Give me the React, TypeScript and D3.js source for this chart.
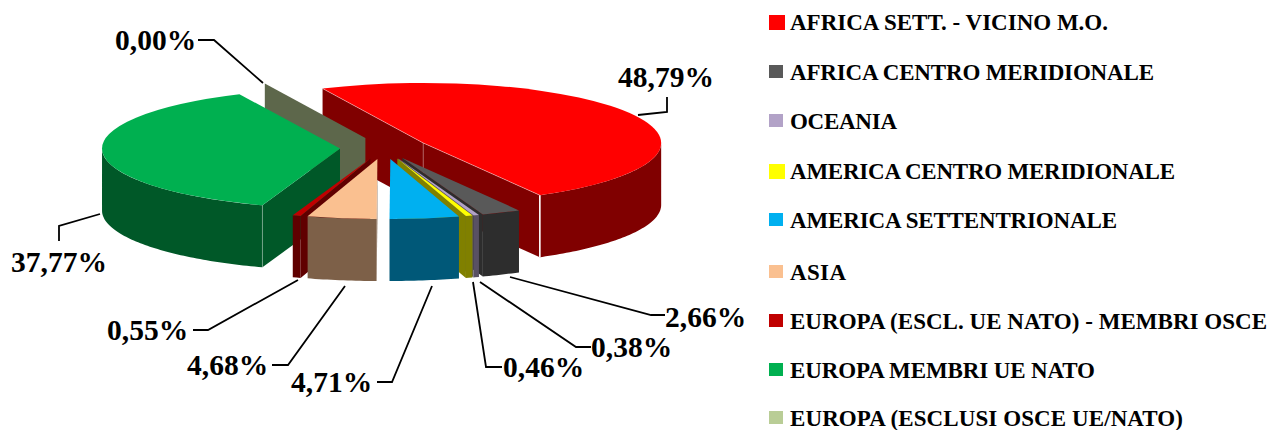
import { useRef, useEffect } from 'react';
import * as d3 from 'd3';

const categories = [
  'AFRICA SETT. - VICINO M.O.',
  'AFRICA CENTRO MERIDIONALE',
  'OCEANIA',
  'AMERICA CENTRO MERIDIONALE',
  'AMERICA SETTENTRIONALE',
  'ASIA',
  'EUROPA (ESCL. UE NATO) - MEMBRI OSCE',
  'EUROPA MEMBRI UE NATO',
  'EUROPA (ESCLUSI OSCE UE/NATO)',
];
const values = [48.79, 2.66, 0.38, 0.46, 4.71, 4.68, 0.55, 37.77, 0.0];
const colors = ['#FF0000', '#595959', '#B2A2C7', '#FFFF00', '#00B0F0', '#FAC090', '#C00000', '#00B050', '#B9CD96'];

// back to front
const drawOrder = [0, 8, 7, 1, 2, 3, 4, 6, 5];

// label anchors and leader lines
const labelX = [618, 665, 591, 503, 291, 187, 107, 11, 115];
const labelY = [87, 327, 357, 377, 392, 375, 340, 272, 50];
const leaders: [number, number][][] = [
  [[638, 115], [667, 112], [667, 97]],
  [[510, 277], [651, 315], [665, 315]],
  [[480, 282], [576, 347], [591, 347]],
  [[473, 282], [486, 367], [502, 367]],
  [[432, 286], [392, 382], [377, 382]],
  [[345, 286], [288, 365], [272, 365]],
  [[298, 280], [208, 330], [193, 330]],
  [[100, 214], [59, 226], [59, 241]],
  [[263, 83], [214, 40], [198, 40]],
];

// legend layout
const legendBaselines = [30, 80, 129, 179, 228, 280, 329, 378, 426];
const legendWidths = [318, 364, 107, 385, 327, 56, 477, 305, 393];
const swatchW = [16, 14, 14, 16, 14, 14, 14, 14, 14];
const swatchH = [15, 13, 13, 15, 13, 13, 13, 13, 13];

const rad = Math.PI / 180;

export default function App() {
  const svgRef = useRef<SVGSVGElement>(null);

  useEffect(() => {
    if (!svgRef.current) return;
    const svg = d3.select(svgRef.current);
    svg.selectAll('*').remove();

    const width = 1271;
    const height = 430;
    svg.attr('viewBox', `0 0 ${width} ${height}`);

    const cx = 384;
    const cy = 148;
    const R = 238;
    const ky = 60 / 238;
    const depth = 62;
    const explode = 0.185;

    const slices = d3.pie<number>()
      .sort(null)
      .startAngle(335 * rad)
      .endAngle(695 * rad)(values);

    const topArc = d3.arc<d3.PieArcDatum<number>>().innerRadius(0).outerRadius(R);
    const poly = d3.line();
    const g = svg.append('g');

    drawOrder.forEach((i) => {
      const s = slices[i];
      const fill = colors[i];
      const c = d3.rgb(fill);
      const side = d3.rgb(c.r * 0.5, c.g * 0.5, c.b * 0.5).formatHex();
      const mid = (s.startAngle + s.endAngle) / 2;
      const ax = cx + explode * R * Math.sin(mid);
      const ay = cy - explode * R * ky * Math.cos(mid);
      const px = (a: number) => ax + R * Math.sin(a);
      const py = (a: number) => ay - R * ky * Math.cos(a);

      const face = (a: number) => {
        g.append('path')
          .attr('d', poly([[ax, ay], [px(a), py(a)], [px(a), py(a) + depth], [ax, ay + depth]]) + 'Z')
          .attr('fill', side);
      };
      if (Math.sin(s.startAngle) < 0) face(s.startAngle);
      if (Math.sin(s.endAngle) > 0) face(s.endAngle);

      // outer wall, front half only
      const a0 = Math.max(s.startAngle, 450 * rad);
      const a1 = Math.min(s.endAngle, 630 * rad);
      if (a1 > a0) {
        const wall = d3.area<number>().x(px).y0(py).y1((a) => py(a) + depth);
        g.append('path')
          .attr('d', wall([...d3.range(a0, a1, rad), a1]))
          .attr('fill', side);
      }

      if (s.endAngle > s.startAngle) {
        g.append('path')
          .attr('transform', `translate(${ax},${ay}) scale(1,${ky})`)
          .attr('d', topArc(s))
          .attr('fill', fill);
      }

      // thin light seams on the corners
      if (i === 0) {
        const e = s.endAngle;
        g.append('path')
          .attr('d', poly([[px(s.startAngle), py(s.startAngle)], [ax, ay], [px(e), py(e)]]))
          .attr('fill', 'none').attr('stroke', '#fff').attr('stroke-opacity', 0.6).attr('stroke-width', 0.7);
        g.append('line')
          .attr('x1', px(e)).attr('x2', px(e)).attr('y1', py(e)).attr('y2', py(e) + depth)
          .attr('stroke', '#fff').attr('stroke-width', 1.6);
        g.append('line')
          .attr('x1', ax).attr('x2', ax).attr('y1', ay).attr('y2', ay + depth)
          .attr('stroke', '#fff').attr('stroke-opacity', 0.4).attr('stroke-width', 0.7);
      }
      if (i === 7) {
        const b = s.startAngle;
        g.append('line')
          .attr('x1', px(b)).attr('x2', px(b)).attr('y1', py(b)).attr('y2', py(b) + depth)
          .attr('stroke', '#fff').attr('stroke-opacity', 0.4).attr('stroke-width', 0.7);
      }
    });

    // Leader lines
    leaders.forEach((pts) => {
      svg.append('path')
        .attr('d', poly(pts))
        .attr('fill', 'none')
        .attr('stroke', '#000')
        .attr('stroke-width', 1.8);
    });

    // Value labels
    const font = '"Liberation Serif", "Times New Roman", serif';
    values.forEach((v, i) => {
      svg.append('text')
        .attr('x', labelX[i]).attr('y', labelY[i])
        .attr('font-family', font).attr('font-weight', 'bold').attr('font-size', 29.5)
        .attr('fill', '#000')
        .text(`${v.toFixed(2).replace('.', ',')}%`);
    });

    // Legend
    categories.forEach((name, i) => {
      const y = legendBaselines[i];
      svg.append('rect')
        .attr('x', 769).attr('y', y - 15)
        .attr('width', swatchW[i]).attr('height', swatchH[i])
        .attr('fill', colors[i]);
      svg.append('text')
        .attr('x', 790).attr('y', y)
        .attr('font-family', font).attr('font-weight', 'bold').attr('font-size', 23)
        .attr('textLength', legendWidths[i])
        .attr('lengthAdjust', 'spacing')
        .attr('fill', '#000')
        .text(name);
    });
  }, []);

  return (
    <svg
      ref={svgRef}
      width={1271}
      height={430}
      style={{ position: 'absolute', left: 0, top: 0, display: 'block', background: '#fff' }}
    />
  );
}
